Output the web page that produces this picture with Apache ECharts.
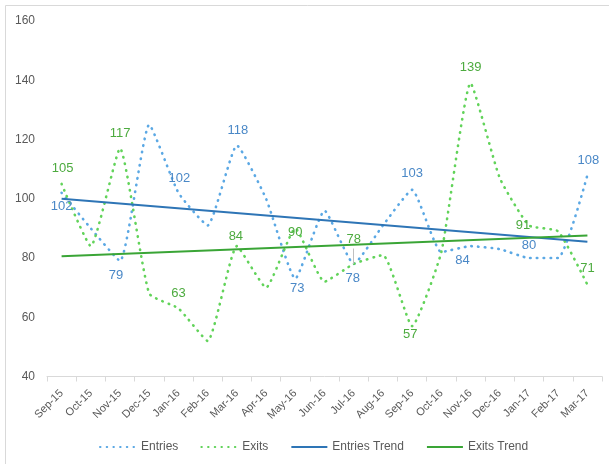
<!DOCTYPE html>
<html>
<head>
<meta charset="utf-8">
<script src="https://cdn.jsdelivr.net/npm/echarts@6/dist/echarts.min.js"></script>
<style>
  html, body { margin: 0; padding: 0; background: #ffffff; }
  #chart { width: 609px; height: 464px; }
</style>
</head>
<body>
<div id="chart"></div>
<script>
// Monthly counts
const months = ['Sep-15', 'Oct-15', 'Nov-15', 'Dec-15', 'Jan-16', 'Feb-16', 'Mar-16', 'Apr-16', 'May-16', 'Jun-16',
  'Jul-16', 'Aug-16', 'Sep-16', 'Oct-16', 'Nov-16', 'Dec-16', 'Jan-17', 'Feb-17', 'Mar-17'];
const entries = [102, 90, 79, 125, 102, 91, 118, 100, 73, 96, 78, 91, 103, 82, 84, 83, 80, 80, 108];
const exits = [105, 84, 117, 68, 63, 52, 84, 70, 90, 72, 78, 81, 57, 82, 139, 107, 91, 89, 71];
// Linear trend values at the first and last month
const entriesTrendEnds = [100.0, 85.5];
const exitsTrendEnds = [80.6, 87.6];
// Value axis range
const yMin = 40, yMax = 160, yStep = 20;

// Label placement (pixel shift of each shown label from its point)
const entriesLabelShift = {0: [0, 14], 2: [-4, 14], 4: [1, -14], 6: [1, -15], 8: [2, 10], 10: [-1, 14],
  12: [0, -16], 14: [-8, 14], 16: [0, -13], 18: [1, -15]};
const exitsLabelShift = {0: [1, -16], 2: [0, -15], 4: [0, -15], 6: [-1, -10], 8: [0, 4], 10: [0, -25],
  12: [-2, 8], 14: [0, -16], 16: [-6, 0], 18: [0, -16]};
// Leader line under the Jul-16 exits label, in value units above the point
const leaderIndex = 10, leaderRise = 5.2;

const BLUE_DOT = '#5ba8e4', GREEN_DOT = '#62d35a';
const BLUE_LABEL = '#4a88c7', GREEN_LABEL = '#4dab3f';
const BLUE_TREND = '#2e75b6', GREEN_TREND = '#3aa536';
const FONT = '"Liberation Sans", Arial, sans-serif';

function labelled(values, shifts, color) {
  return values.map((v, i) => {
    if (!shifts[i]) return v;
    return { value: v, label: { show: true, color: color } };
  });
}
function endsOnly(ends) {
  return months.map((m, i) => i === 0 ? ends[0] : (i === months.length - 1 ? ends[1] : null));
}
function layoutFor(shifts) {
  return function (p) {
    const s = shifts[p.dataIndex];
    return s ? { dx: s[0], dy: s[1] } : {};
  };
}

const dotted = (color) => ({ color: color, width: 2.6, type: [0.5, 6.2], cap: 'round' });

const chart = echarts.init(document.getElementById('chart'), null, { renderer: 'canvas' });
chart.setOption({
  backgroundColor: '#ffffff',
  animation: false,
  textStyle: { fontFamily: FONT },
  graphic: [{
    type: 'rect', silent: true, z: -1,
    shape: { x: 5.5, y: 5.5, width: 640, height: 500 },
    style: { fill: null, stroke: '#d9d9d9', lineWidth: 1 }
  }],
  grid: { left: 47, right: 7, top: 21, bottom: 87.5 },
  legend: {
    left: 94, top: 436,
    itemWidth: 36, itemHeight: 14, itemGap: 22,
    itemStyle: { opacity: 0 },
    textStyle: { color: '#595959', fontSize: 12, fontFamily: FONT },
    data: ['Entries', 'Exits', 'Entries Trend', 'Exits Trend']
  },
  xAxis: {
    type: 'category',
    data: months,
    boundaryGap: true,
    axisLine: { lineStyle: { color: '#d9d9d9', width: 1 } },
    axisTick: { show: true, length: 5, lineStyle: { color: '#d9d9d9' } },
    axisLabel: { interval: 0, rotate: 45, margin: 15, color: '#595959', fontSize: 11, fontFamily: FONT },
    splitLine: { show: false }
  },
  yAxis: {
    type: 'value',
    min: yMin, max: yMax, interval: yStep,
    axisLine: { show: false },
    axisTick: { show: false },
    splitLine: { show: false },
    axisLabel: { margin: 12, color: '#595959', fontSize: 12, fontFamily: FONT }
  },
  series: [
    {
      name: 'Entries', type: 'line', smooth: 0.15,
      data: labelled(entries, entriesLabelShift, BLUE_LABEL),
      symbol: 'circle', symbolSize: 0,
      itemStyle: { color: BLUE_DOT },
      lineStyle: dotted(BLUE_DOT),
      label: { show: false, position: 'inside', fontSize: 13, fontFamily: FONT, color: BLUE_LABEL },
      labelLayout: layoutFor(entriesLabelShift),
      z: 2
    },
    {
      name: 'Exits', type: 'line', smooth: 0.15,
      data: labelled(exits, exitsLabelShift, GREEN_LABEL),
      symbol: 'circle', symbolSize: 0,
      itemStyle: { color: GREEN_DOT },
      lineStyle: dotted(GREEN_DOT),
      label: { show: false, position: 'inside', fontSize: 13, fontFamily: FONT, color: GREEN_LABEL },
      labelLayout: layoutFor(exitsLabelShift),
      markLine: {
        silent: true, symbol: 'none', animation: false,
        label: { show: false },
        lineStyle: { color: '#bfbfbf', width: 1, type: 'solid' },
        data: [[
          { coord: [months[leaderIndex], exits[leaderIndex]] },
          { coord: [months[leaderIndex], exits[leaderIndex] + leaderRise] }
        ]]
      },
      z: 2
    },
    {
      name: 'Entries Trend', type: 'line', connectNulls: true,
      data: endsOnly(entriesTrendEnds),
      symbol: 'none',
      itemStyle: { color: BLUE_TREND },
      lineStyle: { color: BLUE_TREND, width: 2 },
      z: 3
    },
    {
      name: 'Exits Trend', type: 'line', connectNulls: true,
      data: endsOnly(exitsTrendEnds),
      symbol: 'none',
      itemStyle: { color: GREEN_TREND },
      lineStyle: { color: GREEN_TREND, width: 2 },
      z: 3
    }
  ]
});
</script>
</body>
</html>
